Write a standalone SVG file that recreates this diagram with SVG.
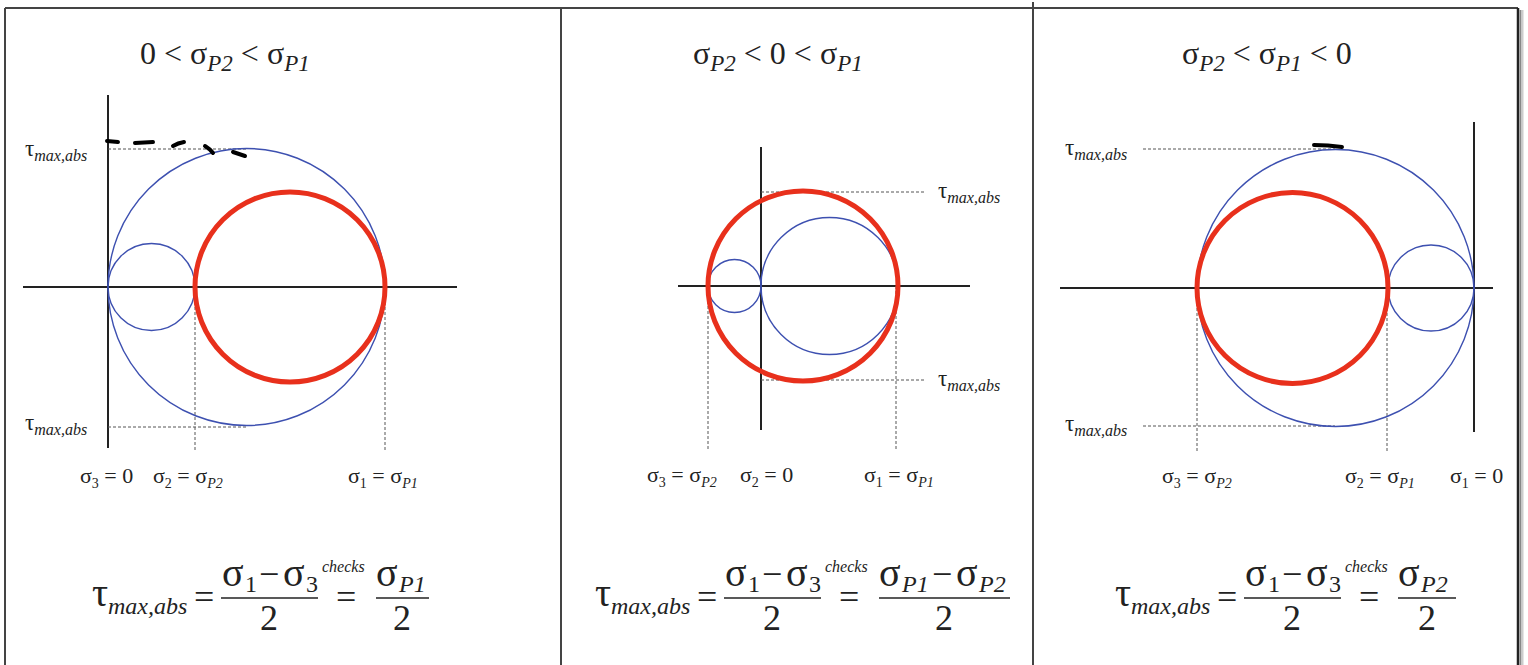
<svg xmlns="http://www.w3.org/2000/svg" width="1528" height="665" viewBox="0 0 1528 665" font-family="'Liberation Serif', 'DejaVu Serif', serif">
<style>
.ax{stroke:#222;stroke-width:2;fill:none}
.dot{stroke:#555;stroke-width:1;stroke-dasharray:3 2;fill:none}
.blue{fill:none;stroke:#3d50b0;stroke-width:1.4}
.red{fill:none;stroke:#e8301c;stroke-width:5}
.frame{stroke:#444;stroke-width:2;fill:none}
.ink{stroke:#000;stroke-width:4;stroke-linecap:round;fill:none}
.bar{stroke:#222;stroke-width:1.6}
text{font-family:'Liberation Serif','DejaVu Serif',serif;fill:#222}
.i{font-style:italic}
.tl{font-size:23px}
.tls{font-size:16px;font-style:italic}
.lb{font-size:22px}
.lbs{font-size:14px}
.ti{font-size:32px}
.tis{font-size:23px;font-style:italic}
.fm{font-size:40px}
.fn{font-size:36px}
.fs{font-size:24px}
.ck{font-size:16px;font-style:italic}
</style>
<rect x="0" y="0" width="1528" height="665" fill="#fff"/>
<g id="frame">
<line class="frame" x1="5" y1="8" x2="1518" y2="8"/>
<line class="frame" x1="5" y1="8" x2="5" y2="665"/>
<line class="frame" x1="561" y1="8" x2="561" y2="665"/>
<line class="frame" x1="1033" y1="2" x2="1033" y2="665"/>
<line stroke="#222" stroke-width="2.5" x1="1518" y1="8" x2="1518" y2="665"/>
<line stroke="#888" stroke-width="2" x1="1520.5" y1="10" x2="1520.5" y2="665"/>
<line stroke="#ccc" stroke-width="2" x1="1522.5" y1="10" x2="1522.5" y2="665"/>
</g>

<g id="panel1">
<text class="ti" x="140" y="64">0 &lt; σ<tspan class="tis" dy="7">P2</tspan><tspan dy="-7"> &lt; σ</tspan><tspan class="tis" dy="7">P1</tspan></text>
<line class="ax" x1="108" y1="95" x2="108" y2="448"/>
<line class="ax" x1="23" y1="287" x2="457" y2="287"/>
<line class="dot" x1="108" y1="149" x2="246" y2="149"/>
<line class="dot" x1="108" y1="427" x2="246" y2="427"/>
<line class="dot" x1="195" y1="287" x2="195" y2="452"/>
<line class="dot" x1="385" y1="287" x2="385" y2="452"/>
<circle class="blue" cx="246.5" cy="287" r="138.5"/>
<circle class="blue" cx="151.5" cy="287" r="43.5"/>
<circle class="red" cx="290" cy="287" r="95"/>
<g id="ink1">
<path class="ink" d="M107 141 L118 142"/>
<path class="ink" d="M135 143 L153 142"/>
<path class="ink" d="M173 146 Q178 143 184 142"/>
<path class="ink" d="M205 146 Q210 149 213 153"/>
<path class="ink" d="M233 152 L245 156"/>
</g>
<text class="tl" x="25" y="156">τ<tspan class="tls" dy="5">max,abs</tspan></text>
<text class="tl" x="25" y="430">τ<tspan class="tls" dy="5">max,abs</tspan></text>
<text class="lb" x="80" y="483">σ<tspan class="lbs" dy="5">3</tspan><tspan dy="-5"> = 0</tspan></text>
<text class="lb" x="153" y="483">σ<tspan class="lbs" dy="5">2</tspan><tspan dy="-5"> = σ</tspan><tspan class="lbs i" dy="5">P2</tspan></text>
<text class="lb" x="348" y="483">σ<tspan class="lbs" dy="5">1</tspan><tspan dy="-5"> = σ</tspan><tspan class="lbs i" dy="5">P1</tspan></text>
<g id="formula1">
<text class="fm" x="92" y="606">τ</text>
<text class="fs i" x="108" y="614">max,abs</text>
<text class="fn" x="194" y="609">=</text>
<line class="bar" x1="221" y1="598" x2="318" y2="598"/>
<text class="fm" x="222" y="586">σ</text>
<text class="fs" x="245" y="592">1</text>
<text class="fn" x="259" y="586">−</text>
<text class="fm" x="283" y="586">σ</text>
<text class="fs" x="306" y="592">3</text>
<text class="fn" x="269" y="630" text-anchor="middle">2</text>
<text class="ck" x="322" y="572">checks</text>
<text class="fn" x="336" y="609">=</text>
<line class="bar" x1="376" y1="598" x2="429" y2="598"/>
<text class="fm" x="376" y="586">σ</text>
<text class="fs i" x="399" y="592">P1</text>
<text class="fn" x="402" y="630" text-anchor="middle">2</text>
</g>
</g>

<g id="panel2">
<text class="ti" x="693" y="64">σ<tspan class="tis" dy="7">P2</tspan><tspan dy="-7"> &lt; 0 &lt; σ</tspan><tspan class="tis" dy="7">P1</tspan></text>
<line class="ax" x1="761" y1="147" x2="761" y2="430"/>
<line class="ax" x1="678" y1="286" x2="970" y2="286"/>
<line class="dot" x1="761" y1="192" x2="925" y2="192"/>
<line class="dot" x1="761" y1="380" x2="925" y2="380"/>
<line class="dot" x1="708" y1="286" x2="708" y2="450"/>
<line class="dot" x1="896" y1="286" x2="896" y2="450"/>
<circle class="blue" cx="734.5" cy="286" r="26.5"/>
<circle class="blue" cx="829.5" cy="286" r="68.5"/>
<circle class="red" cx="803" cy="286" r="95"/>
<text class="tl" x="938" y="198">τ<tspan class="tls" dy="5">max,abs</tspan></text>
<text class="tl" x="938" y="386">τ<tspan class="tls" dy="5">max,abs</tspan></text>
<text class="lb" x="647" y="482">σ<tspan class="lbs" dy="5">3</tspan><tspan dy="-5"> = σ</tspan><tspan class="lbs i" dy="5">P2</tspan></text>
<text class="lb" x="740" y="482">σ<tspan class="lbs" dy="5">2</tspan><tspan dy="-5"> = 0</tspan></text>
<text class="lb" x="864" y="482">σ<tspan class="lbs" dy="5">1</tspan><tspan dy="-5"> = σ</tspan><tspan class="lbs i" dy="5">P1</tspan></text>
<g id="formula2">
<text class="fm" x="595" y="606">τ</text>
<text class="fs i" x="611" y="614">max,abs</text>
<text class="fn" x="697" y="609">=</text>
<line class="bar" x1="724" y1="598" x2="821" y2="598"/>
<text class="fm" x="725" y="586">σ</text>
<text class="fs" x="748" y="592">1</text>
<text class="fn" x="762" y="586">−</text>
<text class="fm" x="786" y="586">σ</text>
<text class="fs" x="809" y="592">3</text>
<text class="fn" x="772" y="630" text-anchor="middle">2</text>
<text class="ck" x="825" y="572">checks</text>
<text class="fn" x="839" y="609">=</text>
<line class="bar" x1="879" y1="598" x2="1010" y2="598"/>
<text class="fm" x="879" y="586">σ</text>
<text class="fs i" x="902" y="592">P1</text>
<text class="fn" x="932" y="586">−</text>
<text class="fm" x="956" y="586">σ</text>
<text class="fs i" x="979" y="592">P2</text>
<text class="fn" x="944" y="630" text-anchor="middle">2</text>
</g>
</g>

<g id="panel3">
<text class="ti" x="1182" y="64">σ<tspan class="tis" dy="7">P2</tspan><tspan dy="-7"> &lt; σ</tspan><tspan class="tis" dy="7">P1</tspan><tspan dy="-7"> &lt; 0</tspan></text>
<line class="ax" x1="1474" y1="122" x2="1474" y2="432"/>
<line class="ax" x1="1060" y1="288" x2="1493" y2="288"/>
<line class="dot" x1="1143" y1="149" x2="1335" y2="149"/>
<line class="dot" x1="1143" y1="426" x2="1335" y2="426"/>
<line class="dot" x1="1197" y1="288" x2="1197" y2="452"/>
<line class="dot" x1="1387" y1="288" x2="1387" y2="452"/>
<circle class="blue" cx="1335.5" cy="288" r="138.5"/>
<circle class="blue" cx="1431" cy="288" r="43"/>
<circle class="red" cx="1292.5" cy="288" r="95.5"/>
<path class="ink" stroke-width="5" d="M1314 145 Q1328 145 1342 147"/>
<text class="tl" x="1065" y="155">τ<tspan class="tls" dy="5">max,abs</tspan></text>
<text class="tl" x="1065" y="431">τ<tspan class="tls" dy="5">max,abs</tspan></text>
<text class="lb" x="1162" y="483">σ<tspan class="lbs" dy="5">3</tspan><tspan dy="-5"> = σ</tspan><tspan class="lbs i" dy="5">P2</tspan></text>
<text class="lb" x="1345" y="483">σ<tspan class="lbs" dy="5">2</tspan><tspan dy="-5"> = σ</tspan><tspan class="lbs i" dy="5">P1</tspan></text>
<text class="lb" x="1450" y="483">σ<tspan class="lbs" dy="5">1</tspan><tspan dy="-5"> = 0</tspan></text>
<g id="formula3">
<text class="fm" x="1115" y="606">τ</text>
<text class="fs i" x="1131" y="614">max,abs</text>
<text class="fn" x="1217" y="609">=</text>
<line class="bar" x1="1244" y1="598" x2="1341" y2="598"/>
<text class="fm" x="1245" y="586">σ</text>
<text class="fs" x="1268" y="592">1</text>
<text class="fn" x="1282" y="586">−</text>
<text class="fm" x="1306" y="586">σ</text>
<text class="fs" x="1329" y="592">3</text>
<text class="fn" x="1292" y="630" text-anchor="middle">2</text>
<text class="ck" x="1345" y="572">checks</text>
<text class="fn" x="1359" y="609">=</text>
<line class="bar" x1="1398" y1="598" x2="1456" y2="598"/>
<text class="fm" x="1398" y="586">σ</text>
<text class="fs i" x="1421" y="592">P2</text>
<text class="fn" x="1427" y="630" text-anchor="middle">2</text>
</g>
</g>
</svg>
